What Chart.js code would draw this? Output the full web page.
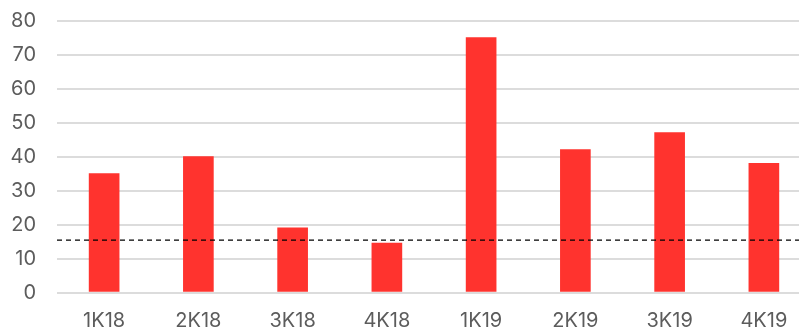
<!DOCTYPE html>
<html>
<head>
<meta charset="utf-8">
<script src="https://cdn.jsdelivr.net/npm/chart.js@4/dist/chart.umd.min.js"></script>
<style>
html,body{margin:0;padding:0;background:#fff;overflow:hidden;}
#wrap{position:relative;width:811px;height:328px;}
</style>
</head>
<body>
<div id="wrap"><canvas id="c"></canvas></div>
<script>
const categories = ['1K18','2K18','3K18','4K18','1K19','2K19','3K19','4K19'];
const values = [35, 40, 19, 14.5, 75, 42, 47, 38];
const thresholdValue = 15.4;
const yTicks = [0, 10, 20, 30, 40, 50, 60, 70, 80];

const tickFont = {family: 'Inter', size: 20};
const tickColor = '#5c5c5c';

new Chart(document.getElementById('c'), {
  data: {
    labels: categories,
    datasets: [
      {
        type: 'bar',
        data: values,
        backgroundColor: '#FF332E',
        barThickness: 30,
        grouped: false,
        order: 1
      },
      {
        type: 'line',
        xAxisID: 'x2',
        data: [{x: 0, y: thresholdValue}, {x: 1, y: thresholdValue}],
        borderColor: '#000',
        borderWidth: 1.2,
        borderDash: [5, 4],
        pointRadius: 0,
        order: 0
      }
    ]
  },
  options: {
    responsive: true,
    maintainAspectRatio: false,
    animation: false,
    events: [],
    layout: {padding: {top: 20.5, right: 0, left: 0, bottom: 0}},
    plugins: {legend: {display: false}, tooltip: {enabled: false}},
    scales: {
      x: {
        type: 'category',
        offset: true,
        grid: {display: false, drawTicks: false},
        border: {display: false},
        ticks: {font: tickFont, color: tickColor, padding: 16, maxRotation: 0},
        afterFit: s => { s.height = 35.5; s.paddingLeft = 0; s.paddingRight = 0; }
      },
      x2: {
        type: 'linear',
        display: false,
        min: 0,
        max: 1
      },
      y: {
        min: 0,
        max: 80,
        afterBuildTicks: s => { s.ticks = yTicks.map(v => ({value: v})); },
        grid: {color: '#dcdcdc', lineWidth: 2, drawTicks: false},
        border: {display: false},
        ticks: {font: tickFont, color: tickColor, padding: 21},
        afterFit: s => { s.width = 57; s.paddingTop = 0; s.paddingBottom = 0; }
      }
    }
  }
});
</script>
</body>
</html>
